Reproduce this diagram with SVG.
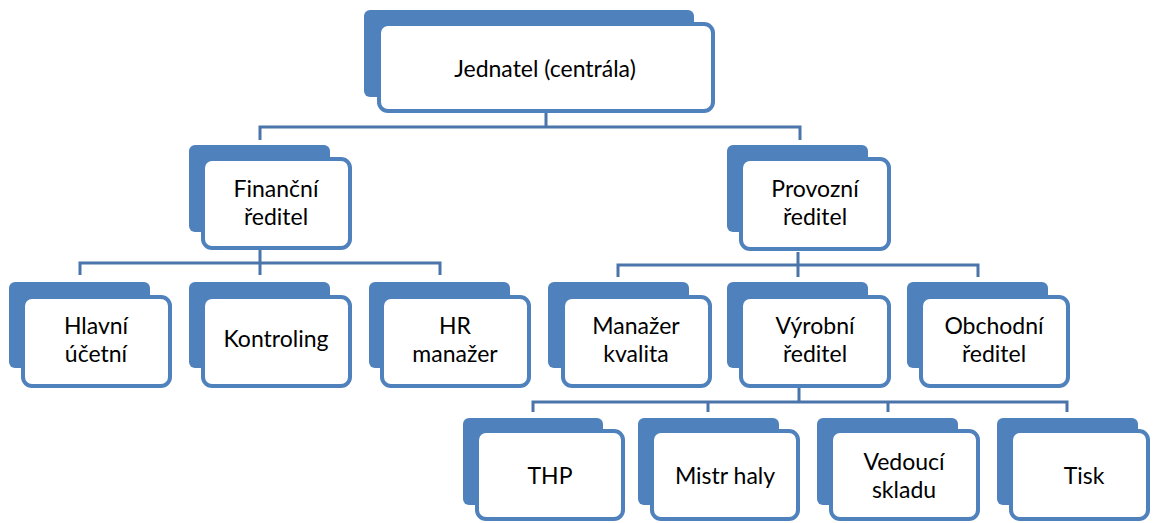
<svg xmlns="http://www.w3.org/2000/svg" width="1153" height="523" viewBox="0 0 1153 523">
<style>
.bk{fill:#4f81bd}
.fr{fill:#ffffff;stroke:#4f81bd;stroke-width:4}
.ln{fill:none;stroke:#4a74aa;stroke-width:3}
text{font-family:Lato,"Open Sans","Liberation Sans",sans-serif;font-size:23px;fill:#000;text-anchor:middle}
</style>
<rect width="1153" height="523" fill="#ffffff"/>
<g id="connectors">
<path class="ln" d="M546 113V127M260 140V127H800V140"/>
<path class="ln" d="M260 250V263M80 275V263H440V275M260 263V275"/>
<path class="ln" d="M798 252V265M618 277V265H978V277M798 265V277"/>
<path class="ln" d="M799 388V401M533 412V402H1067V412M708 402V412M888 402V412"/>
</g>
<g id="jednatel">
<rect class="bk" x="364" y="10" width="330" height="87" rx="6"/>
<rect class="fr" x="379" y="24" width="334" height="87" rx="9"/>
<text x="545" y="77">Jednatel (centrála)</text>
</g>
<g id="financni">
<rect class="bk" x="189" y="145" width="141" height="87" rx="6"/>
<rect class="fr" x="203" y="159" width="147" height="89" rx="9"/>
<text x="276" y="197">Finanční</text><text x="276" y="225">ředitel</text>
</g>
<g id="provozni">
<rect class="bk" x="727" y="145" width="141" height="87" rx="6"/>
<rect class="fr" x="741" y="159" width="148" height="90" rx="9"/>
<text x="815" y="197">Provozní</text><text x="815" y="225">ředitel</text>
</g>
<g id="hlavni">
<rect class="bk" x="9" y="282" width="141" height="86" rx="6"/>
<rect class="fr" x="23" y="297" width="147" height="89" rx="9"/>
<text x="96" y="334">Hlavní</text><text x="96" y="362">účetní</text>
</g>
<g id="kontroling">
<rect class="bk" x="189" y="282" width="141" height="86" rx="6"/>
<rect class="fr" x="203" y="297" width="147" height="89" rx="9"/>
<text x="276" y="347">Kontroling</text>
</g>
<g id="hr">
<rect class="bk" x="369" y="282" width="141" height="86" rx="6"/>
<rect class="fr" x="382" y="297" width="147" height="89" rx="9"/>
<text x="455" y="334">HR</text><text x="455" y="362">manažer</text>
</g>
<g id="kvalita">
<rect class="bk" x="548" y="282" width="141" height="86" rx="6"/>
<rect class="fr" x="563" y="297" width="147" height="89" rx="9"/>
<text x="636" y="334">Manažer</text><text x="636" y="362">kvalita</text>
</g>
<g id="vyrobni">
<rect class="bk" x="727" y="282" width="141" height="86" rx="6"/>
<rect class="fr" x="741" y="297" width="148" height="89" rx="9"/>
<text x="815" y="334">Výrobní</text><text x="815" y="362">ředitel</text>
</g>
<g id="obchodni">
<rect class="bk" x="907" y="282" width="141" height="86" rx="6"/>
<rect class="fr" x="921" y="297" width="147" height="89" rx="9"/>
<text x="994" y="334">Obchodní</text><text x="994" y="362">ředitel</text>
</g>
<g id="thp">
<rect class="bk" x="463" y="418" width="140" height="87" rx="6"/>
<rect class="fr" x="477" y="431" width="146" height="88" rx="9"/>
<text x="550" y="484">THP</text>
</g>
<g id="mistr">
<rect class="bk" x="638" y="418" width="141" height="87" rx="6"/>
<rect class="fr" x="652" y="431" width="146" height="88" rx="9"/>
<text x="725" y="484">Mistr haly</text>
</g>
<g id="vedouci">
<rect class="bk" x="817" y="418" width="141" height="87" rx="6"/>
<rect class="fr" x="831" y="431" width="147" height="88" rx="9"/>
<text x="904" y="470">Vedoucí</text><text x="904" y="498">skladu</text>
</g>
<g id="tisk">
<rect class="bk" x="997" y="418" width="141" height="87" rx="6"/>
<rect class="fr" x="1011" y="431" width="137" height="88" rx="9"/>
<text x="1084" y="484">Tisk</text>
</g>
</svg>
